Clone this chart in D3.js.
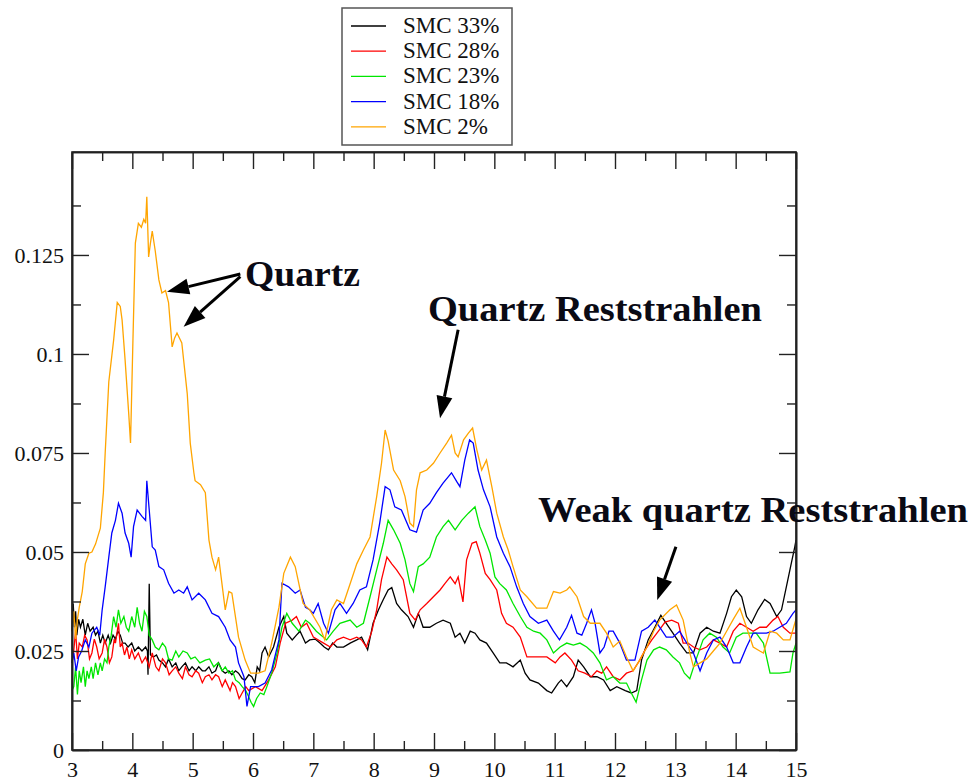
<!DOCTYPE html>
<html>
<head>
<meta charset="utf-8">
<script src="https://cdn.jsdelivr.net/npm/d3@7"></script>
<style>
  body { margin: 0; background: #fff; }
  svg { display: block; }
</style>
</head>
<body>
<div id="chart"></div>
<script>
var width = 979;
var height = 784;
var serif = "'Liberation Serif', 'Times New Roman', 'DejaVu Serif', serif";

// wavelength (x) ticks and value (y) ticks
var xMajorTicks = [3, 4, 5, 6, 7, 8, 9, 10, 11, 12, 13, 14, 15];
var xMinorTicks = [3.5, 4.5, 5.5, 6.5, 7.5, 8.5, 9.5, 10.5, 11.5, 12.5, 13.5, 14.5];
var yMajorTicks = [0, 0.025, 0.05, 0.075, 0.1, 0.125];
var yMinorTicks = [0.0125, 0.0375, 0.0625, 0.0875, 0.1125, 0.1375];

var seriesNames = ["SMC 33%", "SMC 28%", "SMC 23%", "SMC 18%", "SMC 2%"];
var seriesColors = ["#000000", "#ff0000", "#00e600", "#0000ff", "#ffa500"];

// [wavelength, value]
var smc33 = [[3.00,0.030],[3.02,0.037],[3.04,0.031],[3.06,0.035],[3.08,0.029],[3.11,0.033],[3.14,0.031],[3.18,0.033],[3.22,0.029],[3.26,0.032],[3.30,0.030],[3.35,0.031],[3.39,0.029],[3.43,0.030],[3.47,0.027],[3.51,0.029],[3.55,0.027],[3.60,0.029],[3.64,0.027],[3.68,0.029],[3.72,0.028],[3.76,0.030],[3.80,0.029],[3.84,0.027],[3.88,0.027],[3.93,0.026],[3.99,0.027],[4.04,0.025],[4.10,0.026],[4.16,0.025],[4.22,0.026],[4.25,0.025],[4.26,0.019],[4.28,0.042],[4.30,0.024],[4.35,0.0235],[4.40,0.024],[4.44,0.0227],[4.50,0.022],[4.55,0.021],[4.60,0.023],[4.66,0.021],[4.72,0.022],[4.77,0.020],[4.82,0.021],[4.88,0.022],[4.94,0.020],[4.99,0.021],[5.05,0.020],[5.10,0.021],[5.16,0.020],[5.21,0.020],[5.27,0.021],[5.32,0.0194],[5.38,0.020],[5.43,0.022],[5.49,0.020],[5.54,0.0194],[5.60,0.020],[5.65,0.019],[5.71,0.020],[5.76,0.0194],[5.82,0.018],[5.87,0.0177],[5.93,0.019],[5.98,0.0185],[6.03,0.017],[6.07,0.021],[6.11,0.020],[6.15,0.0245],[6.20,0.026],[6.26,0.0235],[6.34,0.026],[6.43,0.031],[6.51,0.0337],[6.56,0.0295],[6.65,0.0278],[6.72,0.029],[6.78,0.030],[6.87,0.027],[6.94,0.0278],[7.03,0.028],[7.11,0.027],[7.18,0.026],[7.25,0.0253],[7.32,0.027],[7.39,0.026],[7.50,0.026],[7.61,0.027],[7.72,0.0278],[7.80,0.0285],[7.90,0.0253],[7.99,0.032],[8.08,0.0354],[8.16,0.038],[8.24,0.0404],[8.30,0.041],[8.38,0.037],[8.46,0.0354],[8.57,0.0337],[8.66,0.031],[8.74,0.0345],[8.82,0.031],[8.93,0.031],[9.04,0.032],[9.15,0.0328],[9.27,0.032],[9.35,0.0285],[9.43,0.0295],[9.51,0.027],[9.60,0.030],[9.68,0.0295],[9.76,0.0278],[9.87,0.027],[9.98,0.0245],[10.09,0.022],[10.20,0.022],[10.31,0.021],[10.43,0.0227],[10.51,0.0194],[10.59,0.0177],[10.73,0.0169],[10.87,0.015],[10.95,0.0144],[11.06,0.0169],[11.11,0.0177],[11.20,0.016],[11.31,0.0185],[11.39,0.0227],[11.48,0.021],[11.59,0.0185],[11.70,0.0185],[11.81,0.0177],[11.92,0.015],[12.03,0.016],[12.17,0.015],[12.27,0.0144],[12.36,0.015],[12.44,0.0227],[12.55,0.0278],[12.66,0.031],[12.76,0.034],[12.85,0.032],[12.96,0.0295],[13.07,0.027],[13.19,0.0245],[13.30,0.0245],[13.41,0.0295],[13.52,0.031],[13.63,0.030],[13.74,0.0295],[13.85,0.0345],[13.93,0.0387],[14.01,0.0404],[14.10,0.0387],[14.18,0.0337],[14.26,0.032],[14.37,0.0354],[14.48,0.038],[14.57,0.037],[14.68,0.0337],[14.76,0.0354],[14.84,0.0412],[14.92,0.047],[14.98,0.0513],[15.00,0.053]];

var smc28 = [[3.00,0.022],[3.03,0.0253],[3.06,0.030],[3.09,0.023],[3.12,0.027],[3.17,0.026],[3.21,0.029],[3.25,0.0278],[3.29,0.023],[3.33,0.0245],[3.37,0.028],[3.41,0.026],[3.45,0.023],[3.50,0.0245],[3.54,0.028],[3.58,0.026],[3.62,0.022],[3.66,0.0235],[3.70,0.028],[3.72,0.027],[3.77,0.032],[3.80,0.026],[3.83,0.027],[3.87,0.024],[3.91,0.026],[3.95,0.023],[3.99,0.0253],[4.04,0.023],[4.10,0.0245],[4.16,0.022],[4.22,0.0235],[4.28,0.021],[4.33,0.0245],[4.39,0.021],[4.44,0.020],[4.50,0.023],[4.55,0.022],[4.61,0.019],[4.66,0.020],[4.72,0.021],[4.77,0.0194],[4.83,0.018],[4.88,0.021],[4.94,0.019],[4.99,0.0185],[5.05,0.020],[5.10,0.0194],[5.16,0.017],[5.21,0.0185],[5.27,0.019],[5.32,0.0177],[5.38,0.019],[5.43,0.0185],[5.49,0.016],[5.54,0.0177],[5.62,0.015],[5.66,0.017],[5.71,0.016],[5.77,0.013],[5.82,0.0144],[5.88,0.016],[5.93,0.015],[6.04,0.016],[6.15,0.015],[6.26,0.0177],[6.37,0.021],[6.45,0.027],[6.54,0.032],[6.65,0.0328],[6.72,0.0337],[6.80,0.031],[6.89,0.032],[7.00,0.0285],[7.17,0.027],[7.28,0.026],[7.39,0.0278],[7.50,0.0285],[7.61,0.0278],[7.72,0.0285],[7.80,0.0278],[7.88,0.026],[7.97,0.030],[8.05,0.0354],[8.13,0.043],[8.22,0.0487],[8.30,0.047],[8.38,0.0455],[8.49,0.043],[8.60,0.0345],[8.69,0.0328],[8.77,0.0354],[8.88,0.037],[8.99,0.0387],[9.10,0.0404],[9.18,0.042],[9.27,0.0437],[9.35,0.042],[9.40,0.0437],[9.48,0.0374],[9.54,0.048],[9.63,0.0522],[9.70,0.0526],[9.76,0.0497],[9.85,0.0446],[9.93,0.043],[10.04,0.0404],[10.12,0.0345],[10.20,0.032],[10.31,0.031],[10.43,0.0285],[10.54,0.0235],[10.70,0.0235],[10.87,0.0235],[11.01,0.022],[11.09,0.0235],[11.17,0.0245],[11.28,0.0227],[11.39,0.020],[11.50,0.0194],[11.61,0.0185],[11.70,0.020],[11.78,0.0194],[11.86,0.021],[11.97,0.0185],[12.08,0.0177],[12.19,0.0194],[12.30,0.020],[12.41,0.0227],[12.50,0.0253],[12.61,0.0278],[12.72,0.030],[12.83,0.0323],[12.94,0.0328],[13.05,0.032],[13.13,0.027],[13.21,0.027],[13.30,0.026],[13.41,0.0253],[13.52,0.026],[13.63,0.0278],[13.74,0.027],[13.85,0.026],[13.96,0.030],[14.07,0.032],[14.18,0.031],[14.29,0.030],[14.40,0.031],[14.51,0.031],[14.62,0.0328],[14.70,0.0337],[14.79,0.031],[14.90,0.0295],[15.00,0.0295]];

var smc23 = [[3.00,0.015],[3.03,0.016],[3.06,0.021],[3.09,0.014],[3.12,0.020],[3.15,0.017],[3.19,0.021],[3.22,0.016],[3.25,0.020],[3.28,0.018],[3.32,0.021],[3.35,0.018],[3.39,0.022],[3.43,0.019],[3.47,0.022],[3.50,0.020],[3.54,0.023],[3.58,0.022],[3.61,0.026],[3.65,0.029],[3.69,0.0337],[3.73,0.031],[3.77,0.0354],[3.81,0.032],[3.86,0.0337],[3.90,0.031],[3.94,0.030],[3.99,0.0337],[4.04,0.031],[4.08,0.036],[4.12,0.032],[4.16,0.030],[4.20,0.035],[4.24,0.0337],[4.28,0.029],[4.33,0.0278],[4.38,0.026],[4.44,0.0253],[4.50,0.027],[4.55,0.026],[4.60,0.023],[4.66,0.0227],[4.72,0.025],[4.77,0.0235],[4.84,0.025],[4.91,0.0245],[4.97,0.023],[5.04,0.0235],[5.12,0.022],[5.21,0.0227],[5.28,0.023],[5.35,0.021],[5.42,0.022],[5.49,0.020],[5.54,0.021],[5.60,0.0194],[5.66,0.020],[5.71,0.0177],[5.77,0.017],[5.82,0.016],[5.88,0.015],[5.93,0.0134],[5.97,0.012],[6.01,0.011],[6.06,0.013],[6.12,0.0144],[6.18,0.014],[6.23,0.016],[6.31,0.0194],[6.40,0.0245],[6.48,0.031],[6.56,0.0345],[6.65,0.032],[6.76,0.030],[6.87,0.0328],[6.94,0.032],[7.05,0.030],[7.22,0.0278],[7.33,0.030],[7.44,0.032],[7.61,0.0328],[7.72,0.031],[7.83,0.032],[7.94,0.0387],[8.05,0.0455],[8.16,0.0522],[8.24,0.058],[8.33,0.0556],[8.44,0.0522],[8.52,0.048],[8.60,0.042],[8.66,0.040],[8.74,0.0463],[8.82,0.047],[8.93,0.0487],[9.04,0.0538],[9.15,0.0564],[9.24,0.058],[9.35,0.0556],[9.46,0.058],[9.57,0.0598],[9.68,0.0614],[9.76,0.0564],[9.85,0.053],[9.93,0.0497],[10.01,0.0437],[10.09,0.042],[10.20,0.0404],[10.31,0.037],[10.43,0.0337],[10.54,0.031],[10.65,0.030],[10.76,0.0295],[10.87,0.0278],[10.98,0.0245],[11.09,0.026],[11.20,0.027],[11.31,0.0265],[11.42,0.027],[11.53,0.026],[11.64,0.0245],[11.75,0.022],[11.86,0.0177],[11.97,0.0185],[12.08,0.0169],[12.19,0.0169],[12.27,0.0144],[12.35,0.0121],[12.44,0.0177],[12.53,0.0227],[12.64,0.0253],[12.74,0.026],[12.85,0.0253],[12.96,0.0235],[13.07,0.022],[13.15,0.0194],[13.24,0.018],[13.34,0.0227],[13.46,0.0278],[13.57,0.0295],[13.68,0.0285],[13.79,0.026],[13.90,0.0245],[14.01,0.0285],[14.12,0.0295],[14.23,0.0295],[14.34,0.0295],[14.46,0.027],[14.57,0.0194],[14.73,0.0194],[14.90,0.0197],[14.95,0.0245],[15.00,0.027]];

var smc18 = [[3.00,0.022],[3.03,0.0245],[3.07,0.020],[3.11,0.0235],[3.16,0.025],[3.22,0.0278],[3.28,0.026],[3.33,0.0295],[3.41,0.031],[3.46,0.029],[3.50,0.0354],[3.55,0.0412],[3.61,0.0487],[3.66,0.0548],[3.72,0.058],[3.77,0.0623],[3.83,0.0598],[3.88,0.0548],[3.94,0.0522],[3.98,0.0487],[4.02,0.0564],[4.08,0.0606],[4.16,0.059],[4.22,0.058],[4.24,0.068],[4.28,0.0606],[4.33,0.0513],[4.38,0.0505],[4.44,0.0463],[4.52,0.0455],[4.60,0.0421],[4.69,0.0396],[4.77,0.0404],[4.85,0.0396],[4.91,0.0412],[4.99,0.0379],[5.10,0.0396],[5.21,0.0379],[5.32,0.0345],[5.43,0.0337],[5.54,0.031],[5.62,0.0278],[5.71,0.026],[5.76,0.022],[5.85,0.0185],[5.90,0.011],[5.96,0.016],[6.09,0.016],[6.20,0.0169],[6.31,0.0202],[6.43,0.0278],[6.48,0.0421],[6.59,0.0412],[6.70,0.0396],[6.78,0.0404],[6.87,0.036],[6.94,0.0354],[7.00,0.0345],[7.08,0.037],[7.17,0.032],[7.25,0.0295],[7.36,0.0354],[7.44,0.037],[7.55,0.0345],[7.66,0.037],[7.77,0.0404],[7.88,0.0412],[7.99,0.048],[8.10,0.0573],[8.19,0.0665],[8.27,0.0657],[8.35,0.0614],[8.46,0.0606],[8.60,0.0556],[8.71,0.055],[8.82,0.0606],[8.93,0.0623],[9.04,0.065],[9.15,0.0674],[9.29,0.070],[9.38,0.0677],[9.43,0.0665],[9.51,0.0732],[9.59,0.0783],[9.65,0.0775],[9.73,0.0707],[9.82,0.0657],[9.93,0.0614],[10.04,0.0538],[10.15,0.0497],[10.26,0.0463],[10.37,0.0412],[10.48,0.037],[10.59,0.0337],[10.73,0.032],[10.87,0.0328],[10.98,0.030],[11.08,0.0278],[11.20,0.031],[11.28,0.034],[11.37,0.0295],[11.45,0.029],[11.53,0.032],[11.61,0.0354],[11.67,0.032],[11.75,0.0245],[11.82,0.026],[11.90,0.030],[11.97,0.030],[12.08,0.027],[12.19,0.0227],[12.33,0.0227],[12.44,0.030],[12.55,0.031],[12.66,0.0328],[12.74,0.031],[12.85,0.0285],[12.96,0.0285],[13.07,0.030],[13.19,0.027],[13.30,0.0245],[13.41,0.020],[13.52,0.0245],[13.63,0.0278],[13.74,0.0285],[13.85,0.026],[13.96,0.022],[14.07,0.022],[14.18,0.026],[14.29,0.0295],[14.40,0.0295],[14.51,0.0295],[14.62,0.030],[14.73,0.031],[14.84,0.032],[14.95,0.0345],[15.00,0.0354]];

var smc2 = [[3.00,0.030],[3.03,0.035],[3.06,0.028],[3.09,0.033],[3.12,0.036],[3.17,0.040],[3.22,0.047],[3.28,0.0497],[3.33,0.050],[3.39,0.052],[3.47,0.056],[3.52,0.065],[3.55,0.075],[3.58,0.084],[3.61,0.093],[3.69,0.1035],[3.75,0.113],[3.80,0.112],[3.83,0.1086],[3.88,0.0985],[3.94,0.085],[3.97,0.0775],[4.01,0.1035],[4.05,0.128],[4.10,0.133],[4.15,0.132],[4.19,0.134],[4.22,0.133],[4.24,0.1397],[4.27,0.1245],[4.30,0.128],[4.33,0.131],[4.38,0.126],[4.44,0.1187],[4.49,0.1154],[4.55,0.116],[4.60,0.113],[4.66,0.1018],[4.70,0.104],[4.74,0.1053],[4.82,0.1028],[4.91,0.090],[4.96,0.0775],[5.02,0.070],[5.04,0.068],[5.13,0.067],[5.21,0.065],[5.27,0.053],[5.32,0.0487],[5.38,0.0455],[5.43,0.0487],[5.54,0.0354],[5.60,0.040],[5.65,0.0396],[5.76,0.0285],[5.87,0.0227],[5.96,0.0194],[6.09,0.0194],[6.20,0.020],[6.31,0.027],[6.43,0.036],[6.51,0.0446],[6.62,0.0487],[6.70,0.0463],[6.83,0.037],[6.94,0.0354],[7.11,0.031],[7.19,0.0278],[7.30,0.0354],[7.39,0.0379],[7.50,0.037],[7.61,0.042],[7.72,0.047],[7.83,0.0505],[7.94,0.0538],[8.05,0.064],[8.13,0.0724],[8.19,0.0808],[8.24,0.078],[8.33,0.0707],[8.44,0.068],[8.52,0.064],[8.60,0.0573],[8.66,0.0564],[8.71,0.0657],[8.77,0.070],[8.88,0.0707],[8.99,0.0724],[9.10,0.075],[9.21,0.0775],[9.29,0.0795],[9.35,0.075],[9.40,0.074],[9.49,0.0783],[9.57,0.080],[9.64,0.0813],[9.71,0.0758],[9.79,0.0707],[9.87,0.0732],[9.96,0.0664],[10.04,0.0598],[10.15,0.0538],[10.23,0.0505],[10.31,0.0463],[10.43,0.0404],[10.54,0.0387],[10.70,0.0358],[10.87,0.0358],[10.98,0.040],[11.09,0.0396],[11.20,0.0404],[11.25,0.0412],[11.37,0.0387],[11.48,0.0337],[11.59,0.032],[11.75,0.032],[11.86,0.0295],[11.97,0.026],[12.08,0.0275],[12.19,0.0235],[12.30,0.020],[12.41,0.0227],[12.53,0.026],[12.64,0.030],[12.74,0.0328],[12.91,0.0354],[13.02,0.0366],[13.13,0.0328],[13.24,0.0245],[13.30,0.021],[13.41,0.022],[13.52,0.023],[13.63,0.025],[13.74,0.027],[13.85,0.030],[13.96,0.033],[14.07,0.0358],[14.18,0.031],[14.29,0.026],[14.40,0.025],[14.46,0.0245],[14.57,0.030],[14.68,0.0295],[14.79,0.0278],[14.90,0.0278],[14.98,0.032],[15.00,0.033]];

var seriesData = [smc33, smc28, smc23, smc18, smc2];

// annotation texts and arrows, placed in data coordinates
var labelTexts = ["Quartz", "Quartz Reststrahlen", "Weak quartz Reststrahlen"];
var labelPos = [[5.868, 0.1172], [8.90, 0.1083], [10.724, 0.0576]];
var labelWidths = [115, 334, 430];
var arrows = [
	[[5.79, 0.1202], [4.575, 0.1157]],
	[[5.79, 0.1195], [4.85, 0.1069]],
	[[9.40, 0.1061], [9.10, 0.0838]],
	[[13.01, 0.0513], [12.70, 0.0379]]
];

var svg = d3.select("#chart").append("svg")
	.attr("width", width)
	.attr("height", height);

svg.append("rect").attr("width", width).attr("height", height).attr("fill", "#fff");

var x = d3.scaleLinear().domain([3, 15]).range([72, 796]);
var y = d3.scaleLinear().domain([0, 0.151]).range([750, 152]);

// curves
var line = d3.line()
	.x(function (d) { return x(d[0]); })
	.y(function (d) { return y(d[1]); });

svg.append("g").selectAll("path")
	.data(seriesData)
	.enter()
	.append("path")
	.attr("d", line)
	.attr("fill", "none")
	.attr("stroke", function (d, i) { return seriesColors[i]; })
	.attr("stroke-width", 1.3)
	.attr("stroke-linejoin", "miter");

// axes on all four sides, ticks pointing inward
function styleAxis(g)
{
	g.attr("font-family", serif).attr("font-size", 22);
	g.selectAll("path.domain").attr("stroke", "#222").attr("stroke-width", 1.6);
	g.selectAll(".tick line").attr("stroke", "#222").attr("stroke-width", 1.4);
	g.selectAll(".tick text").attr("fill", "#111");
}

var fmt = function (d) { return String(d); };

svg.append("g").attr("transform", "translate(0,750)")
	.call(d3.axisBottom(x).tickValues(xMajorTicks).tickSize(-17).tickSizeOuter(0).tickPadding(11).tickFormat(fmt))
	.call(styleAxis);
svg.append("g").attr("transform", "translate(0,750)")
	.call(d3.axisBottom(x).tickValues(xMinorTicks).tickSize(-9).tickSizeOuter(0).tickFormat(""))
	.call(styleAxis);
svg.append("g").attr("transform", "translate(0,152)")
	.call(d3.axisTop(x).tickValues(xMajorTicks).tickSize(-17).tickSizeOuter(0).tickFormat(""))
	.call(styleAxis);
svg.append("g").attr("transform", "translate(0,152)")
	.call(d3.axisTop(x).tickValues(xMinorTicks).tickSize(-9).tickSizeOuter(0).tickFormat(""))
	.call(styleAxis);

svg.append("g").attr("transform", "translate(72,0)")
	.call(d3.axisLeft(y).tickValues(yMajorTicks).tickSize(-17).tickSizeOuter(0).tickPadding(8).tickFormat(fmt))
	.call(styleAxis);
svg.append("g").attr("transform", "translate(72,0)")
	.call(d3.axisLeft(y).tickValues(yMinorTicks).tickSize(-9).tickSizeOuter(0).tickFormat(""))
	.call(styleAxis);
svg.append("g").attr("transform", "translate(796,0)")
	.call(d3.axisRight(y).tickValues(yMajorTicks).tickSize(-17).tickSizeOuter(0).tickFormat(""))
	.call(styleAxis);
svg.append("g").attr("transform", "translate(796,0)")
	.call(d3.axisRight(y).tickValues(yMinorTicks).tickSize(-9).tickSizeOuter(0).tickFormat(""))
	.call(styleAxis);

// frame
svg.append("rect")
	.attr("x", x(3)).attr("y", y(0.151))
	.attr("width", x(15) - x(3)).attr("height", y(0) - y(0.151))
	.attr("fill", "none").attr("stroke", "#222").attr("stroke-width", 1.6);

// annotations
svg.append("g").selectAll("text")
	.data(labelTexts)
	.enter()
	.append("text")
	.attr("x", function (d, i) { return x(labelPos[i][0]); })
	.attr("y", function (d, i) { return y(labelPos[i][1]); })
	.attr("textLength", function (d, i) { return labelWidths[i]; })
	.attr("lengthAdjust", "spacingAndGlyphs")
	.attr("font-family", serif)
	.attr("font-weight", "bold")
	.attr("font-size", 35)
	.attr("fill", "#0a0a14")
	.text(function (d) { return d; });

var arrowG = svg.append("g");
arrows.forEach(function (a)
{
	var x0 = x(a[0][0]), y0 = y(a[0][1]);
	var x1 = x(a[1][0]), y1 = y(a[1][1]);
	var ang = Math.atan2(y1 - y0, x1 - x0);
	var headLen = 22, headHalf = 8;
	var bx = x1 - headLen * Math.cos(ang), by = y1 - headLen * Math.sin(ang);
	arrowG.append("line")
		.attr("x1", x0).attr("y1", y0).attr("x2", bx).attr("y2", by)
		.attr("stroke", "#000").attr("stroke-width", 3);
	var px = -Math.sin(ang) * headHalf, py = Math.cos(ang) * headHalf;
	arrowG.append("polygon")
		.attr("points", [[x1, y1], [bx + px, by + py], [bx - px, by - py]].map(function (p) { return p.join(","); }).join(" "))
		.attr("fill", "#000");
});

// legend
var legend = svg.append("g");
legend.append("rect")
	.attr("x", 342).attr("y", 8).attr("width", 170).attr("height", 137)
	.attr("fill", "#fff").attr("stroke", "#555").attr("stroke-width", 1.5);

var rows = legend.selectAll("g.row")
	.data(seriesNames)
	.enter()
	.append("g")
	.attr("class", "row")
	.attr("transform", function (d, i) { return "translate(0," + (26 + i * 25.2) + ")"; });

rows.append("line")
	.attr("x1", 351).attr("x2", 386)
	.attr("stroke", function (d, i) { return seriesColors[i]; })
	.attr("stroke-width", 1.3);

rows.append("text")
	.attr("x", 403)
	.attr("y", 7)
	.attr("font-family", serif)
	.attr("font-size", 23)
	.attr("fill", "#111")
	.text(function (d) { return d; });
</script>
</body>
</html>
